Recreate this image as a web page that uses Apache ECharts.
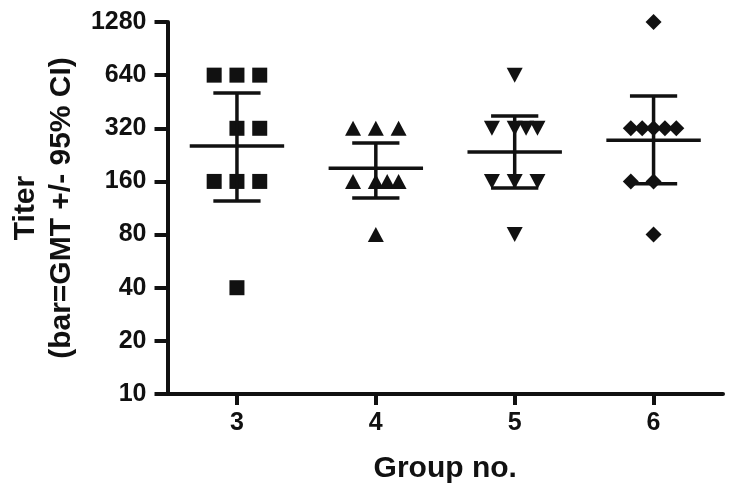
<!DOCTYPE html>
<html>
<head>
<meta charset="utf-8">
<script src="https://cdn.jsdelivr.net/npm/echarts@6/dist/echarts.min.js"></script>
<style>
  html, body { margin: 0; padding: 0; background: #fff; }
  #main { width: 734px; height: 493px; }
</style>
</head>
<body>
<div id="main"></div>
<script>
// groups on the x axis
var groups = [3, 4, 5, 6];
// y tick labels (log2 scale, doubling dilutions)
var yTicks = [10, 20, 40, 80, 160, 320, 640, 1280];

// individual titers per group, and the column slot each point sits in
var titers3 = [640, 640, 640, 320, 320, 160, 160, 160, 40];
var slots3  = [-2, 0, 2, 0, 2, -2, 0, 2, 0];
var titers4 = [320, 320, 320, 160, 160, 160, 160, 80];
var slots4  = [-2, 0, 2, -2, 0, 1, 2, 0];
var titers5 = [640, 320, 320, 320, 320, 160, 160, 160, 80];
var slots5  = [0, -2, 0, 1, 2, -2, 0, 2, 0];
var titers6 = [1280, 320, 320, 320, 320, 320, 160, 160, 80];
var slots6  = [0, -2, -1, 0, 1, 2, -2, 0, 0];

// GMT and 95% CI per group
var gmt    = [254, 190, 235, 274];
var ciLow  = [124, 129, 147, 155];
var ciHigh = [507, 264, 376, 488];

var ink = '#111';
var font = 'Liberation Sans, Arial, sans-serif';
var slotWidth = 0.082;

function lg(v) { return Math.log2(v / 10); }

function points(g, titers, slots) {
    return titers.map(function (t, i) { return [g + slots[i] * slotWidth, lg(t)]; });
}

var bars = groups.map(function (g, i) {
    return [g, lg(gmt[i]), lg(ciLow[i]), lg(ciHigh[i])];
});

function renderBar(params, api) {
    var x = api.value(0);
    var m = api.coord([x, api.value(1)]);
    var lo = api.coord([x, api.value(2)]);
    var hi = api.coord([x, api.value(3)]);
    var half = api.size([0.34, 0])[0];
    var cap = api.size([0.17, 0])[0];
    var st = { stroke: ink, lineWidth: 3.5 };
    return {
        type: 'group',
        children: [
            { type: 'line', shape: { x1: m[0] - half, y1: m[1], x2: m[0] + half, y2: m[1] }, style: st },
            { type: 'line', shape: { x1: lo[0], y1: lo[1], x2: hi[0], y2: hi[1] }, style: st },
            { type: 'line', shape: { x1: lo[0] - cap, y1: lo[1], x2: lo[0] + cap, y2: lo[1] }, style: st },
            { type: 'line', shape: { x1: hi[0] - cap, y1: hi[1], x2: hi[0] + cap, y2: hi[1] }, style: st }
        ]
    };
}

var dot = { color: ink, opacity: 1 };

var myChart = echarts.init(document.getElementById('main'));
var option = {
    backgroundColor: '#fff',
    animation: false,
    grid: { left: 163, right: 11, top: 22, bottom: 99 },
    xAxis: {
        type: 'value',
        min: 2.5,
        max: 6.5,
        name: 'Group no.',
        nameLocation: 'middle',
        nameGap: 60,
        nameTextStyle: { fontFamily: font, fontWeight: 'bold', fontSize: 30, color: ink },
        splitLine: { show: false },
        axisLine: { lineStyle: { color: ink, width: 4 } },
        axisTick: { customValues: groups, length: 11, lineStyle: { color: ink, width: 4 } },
        axisLabel: {
            customValues: groups,
            margin: 17,
            fontFamily: font, fontWeight: 'bold', fontSize: 25, color: ink
        }
    },
    yAxis: {
        type: 'value',
        min: 0,
        max: 7,
        interval: 1,
        name: 'Titer\n(bar=GMT +/- 95% CI)',
        nameLocation: 'middle',
        nameGap: 86,
        nameTextStyle: { fontFamily: font, fontWeight: 'bold', fontSize: 30, color: ink, lineHeight: 36 },
        splitLine: { show: false },
        axisLine: { show: true, lineStyle: { color: ink, width: 4 } },
        axisTick: { show: true, length: 13, lineStyle: { color: ink, width: 4 } },
        axisLabel: {
            margin: 21,
            fontFamily: font, fontWeight: 'bold', fontSize: 25, color: ink,
            formatter: function (v) { return yTicks[v]; }
        }
    },
    series: [
        { type: 'scatter', symbol: 'rect', symbolSize: 15, itemStyle: dot, data: points(3, titers3, slots3) },
        { type: 'scatter', symbol: 'triangle', symbolSize: [16, 15], itemStyle: dot, data: points(4, titers4, slots4) },
        { type: 'scatter', symbol: 'triangle', symbolRotate: 180, symbolSize: [16, 15], itemStyle: dot, data: points(5, titers5, slots5) },
        { type: 'scatter', symbol: 'diamond', symbolSize: [16, 16], itemStyle: dot, data: points(6, titers6, slots6) },
        { type: 'custom', renderItem: renderBar, data: bars, z: 3 }
    ]
};
myChart.setOption(option);
</script>
</body>
</html>
